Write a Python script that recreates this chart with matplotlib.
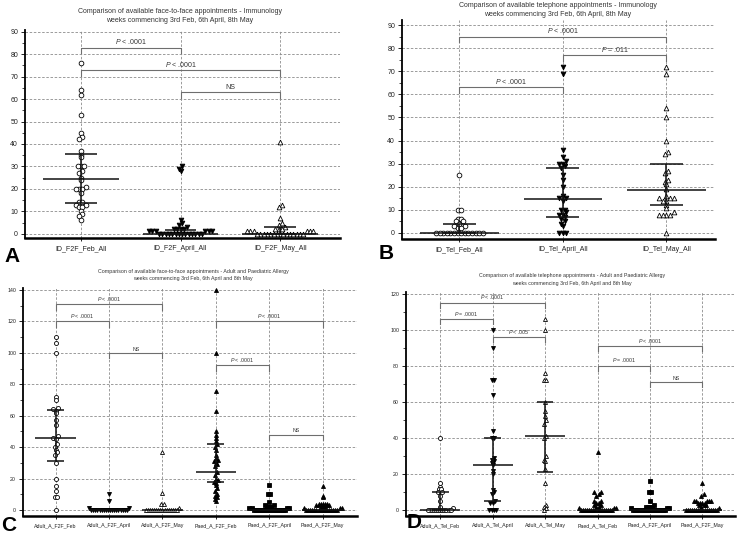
import numpy as np
import matplotlib
matplotlib.use("Agg")
import matplotlib.pyplot as plt

plt.rcParams['font.family'] = ['Liberation Sans', 'DejaVu Sans']
plt.rcParams['mathtext.fontset'] = 'custom'
plt.rcParams['mathtext.it'] = 'Liberation Sans:italic'
plt.rcParams['mathtext.rm'] = 'Liberation Sans'

W, H = 737, 534

# ---------------- data ----------------
a_cats = ['ID_F2F_Feb_All', 'ID_F2F_April_All', 'ID_F2F_May_All']
a_feb = [76, 64, 62, 53, 45, 43, 42, 37, 35, 34, 30, 30, 30, 28, 27, 25, 24, 21,
         20, 20, 20, 18, 14, 14, 13, 13, 12, 12, 10, 9, 8, 6]
a_apr = [30, 29, 28, 6, 5, 4, 3, 2, 2, 2, 2, 1, 1, 1, 1, 1, 1] + [0] * 14
a_may = [41, 13, 12, 7, 5, 4, 3, 2, 2, 2, 1, 1, 1, 1, 1, 1] + [0] * 15
a_med = [24.5, 0, 0]
a_q1 = [13.5, 0, 0]
a_q3 = [35.5, 1.5, 3]
a_brackets = [(0, 1, 83, '$P$ < .0001'), (0, 2, 73, '$P$ < .0001'), (1, 2, 63, 'NS')]

b_cats = ['ID_Tel_Feb_All', 'ID_Tel_April_All', 'ID_Tel_May_All']
b_feb = [25, 10, 10, 6, 6, 5, 5, 4, 3, 3, 2, 2] + [0] * 14
b_apr = [72, 69, 36, 33, 31, 30, 30, 29, 28, 25, 23, 20, 16, 15, 15, 14, 10, 10,
         9, 8, 8, 7, 6, 5, 4, 3, 0, 0, 0]
b_may = [72, 69, 54, 50, 40, 35, 34, 27, 26, 23, 22, 21, 19, 16, 15, 15, 15, 14,
         14, 12, 11, 9, 8, 8, 8, 8, 0]
b_med = [0, 14.7, 18.5]
b_q1 = [0, 7, 12]
b_q3 = [4, 28, 30]
b_brackets = [(0, 2, 85, '$P$ < .0001'), (1, 2, 77, '$P$ = .011'), (0, 1, 63, '$P$ < .0001')]

c_cats = ['Adult_A_F2F_Feb', 'Adult_A_F2F_April', 'Adult_A_F2F_May',
          'Paed_A_F2F_Feb', 'Paed_A_F2F_April', 'Paed_A_F2F_May']
c_adult_feb = [110, 106, 100, 72, 70, 65, 64, 63, 62, 57, 54, 47, 46, 45, 42, 40,
               38, 37, 35, 30, 20, 15, 12, 8, 8, 0]
c_adult_apr = [10, 6, 1, 1] + [0] * 18
c_adult_may = [37, 11, 4, 4, 1] + [0] * 16
c_paed_feb = [140, 100, 76, 63, 50, 48, 46, 44, 42, 40, 38, 35, 33, 32, 31, 30, 29,
              28, 24, 22, 20, 19, 18, 17, 16, 14, 12, 10, 9, 8, 7, 6]
c_paed_apr = [16, 10, 10, 5, 3, 3, 2, 2, 2, 1, 1, 1, 1] + [0] * 16
c_paed_may = [15, 9, 8, 4, 4, 4, 4, 4, 3, 3, 3, 3, 2, 2, 2, 1, 1, 1] + [0] * 16
c_med = [46, 0, 0, 24, 0, 0]
c_q1 = [31, 0, 0, 18, 0, 0]
c_q3 = [63.5, 0, 0, 42, 0, 0]
c_brackets = [(0, 2, 131, '$P$ < .0001'), (0, 1, 120, '$P$ < .0001'), (1, 2, 100, 'NS'),
              (3, 5, 120, '$P$ < .0001'), (3, 4, 92, '$P$ < .0001'), (4, 5, 48, 'NS')]

d_cats = ['Adult_A_Tel_Feb', 'Adult_A_Tel_April', 'Adult_A_Tel_May',
          'Paed_A_Tel_Feb', 'Paed_A_F2F_April', 'Paed_A_F2F_May']
d_adult_feb = [40, 15, 13, 12, 12, 10, 10, 8, 5, 2, 1] + [0] * 12
d_adult_apr = [100, 90, 72, 72, 64, 44, 40, 40, 29, 28, 27, 26, 25, 22, 20, 11, 10,
               9, 5, 4, 4, 0, 0, 0, 0]
d_adult_may = [106, 100, 76, 72, 72, 60, 55, 52, 50, 48, 41, 40, 30, 28, 27, 23, 15,
               3, 2, 1, 0]
d_paed_feb = [32, 10, 10, 9, 8, 5, 5, 4, 4, 3, 3, 2, 2, 1, 1, 1] + [0] * 16
d_paed_apr = [16, 10, 10, 5, 3, 2, 2, 2, 2, 1, 1, 1] + [0] * 16
d_paed_may = [15, 9, 8, 5, 5, 5, 5, 5, 4, 4, 4, 4, 3, 3, 3, 2, 1] + [0] * 16
d_med = [0, 25, 41, 0, 0, 0]
d_q1 = [0, 5, 21, 0, 0, 0]
d_q3 = [10, 40, 60, 0, 0, 0]
d_brackets = [(0, 2, 115, '$P$ < .0001'), (0, 1, 106, '$P$ = .0001'), (1, 2, 96, '$P$ < .005'),
              (3, 5, 91, '$P$ < .0001'), (3, 4, 80, '$P$ = .0001'), (4, 5, 71, 'NS')]

# marker styles: (marker, filled)
m3 = [('o', False), ('v', True), ('^', False)]
m6 = [('o', False), ('v', True), ('^', False), ('^', True), ('s', True), ('^', True)]


def spread(vals, ppx, ppy, bh, sx):
    """dot-plot offsets: values in the same row (bh px high) are spread sx px apart"""
    vals = np.asarray(vals, float)
    rows = np.floor(vals * ppy / bh + 0.5).astype(int)
    offs = np.zeros(len(vals))
    for r in np.unique(rows):
        idx = np.where(rows == r)[0]
        idx = idx[np.argsort(vals[idx], kind='stable')]
        n = len(idx)
        pos = (np.arange(n) - (n - 1) / 2) * sx
        pos = pos[np.argsort(np.abs(pos), kind='stable')]
        offs[idx] = pos / ppx
    return offs


def panel(rect, xlim, ylim, groups, cats, marks, med, q1, q3, brackets,
          major, minor, fs, msize, sx, drop):
    l, t, r, b = rect
    ax = fig.add_axes([l / W, 1 - b / H, (r - l) / W, (b - t) / H])
    ax.set_xlim(*xlim)
    ax.set_ylim(*ylim)
    ppx = (r - l) / (xlim[1] - xlim[0])
    ppy = (b - t) / (ylim[1] - ylim[0])
    ax.set_yticks(np.arange(0, ylim[1] + 0.1, major))
    ax.set_yticks(np.arange(0, ylim[1] + 0.1, minor), minor=True)
    ax.yaxis.grid(True, which='major', ls=(0, (3, 2)), color='#8c8c8c', lw=0.6)
    for i in range(len(cats)):
        ax.axvline(i, ls=(0, (3, 2)), color='#8c8c8c', lw=0.6, zorder=0)
    ax.set_axisbelow(True)
    for s in ['top', 'right']:
        ax.spines[s].set_visible(False)
    ax.spines['left'].set_linewidth(1.3)
    ax.spines['bottom'].set_linewidth(1.8)
    ax.set_xticks(range(len(cats)))
    ax.set_xticklabels(cats, fontsize=fs, color='#222222')
    ax.tick_params(axis='x', length=2, width=0.6, pad=3)
    ax.tick_params(axis='y', which='major', labelsize=fs, length=3, width=0.6, pad=2,
                   labelcolor='#222222')
    ax.tick_params(axis='y', which='minor', length=2, width=0.5)

    dpx = msize * 100 / 72
    for i, vals in enumerate(groups):
        mk, filled = marks[i]
        offs = spread(vals, ppx, ppy, dpx, sx)
        ax.plot(i + offs, vals, ls='none', marker=mk, ms=msize, mew=0.6,
                mec='black', mfc='black' if filled else 'white', zorder=3,
                clip_on=False)
        ax.hlines(med[i], i - 0.38, i + 0.38, color='#111111', lw=1.1, zorder=4)
        if q3[i] > q1[i]:
            ax.hlines([q1[i], q3[i]], i - 0.16, i + 0.16, color='#111111', lw=1.1, zorder=4)
            ax.vlines(i, q1[i], q3[i], color='#111111', lw=1.1, zorder=4)

    for i, j, h, lab in brackets:
        ax.plot([i, i, j, j], [h - drop, h, h, h - drop], color='#6e6e6e', lw=0.8, zorder=2)
        ax.text((i + j) / 2, h + drop * 0.25, lab, ha='center', va='bottom',
                fontsize=fs, color='#333333')
    return ax


fig = plt.figure(figsize=(W / 100, H / 100), dpi=100)

# A
panel((25, 30, 340, 238), (-0.56, 2.6), (-1.9, 90.8), [a_feb, a_apr, a_may], a_cats, m3,
      a_med, a_q1, a_q3, a_brackets, 10, 5, 5, 3.4, 3.3, 2.5)
fig.text(180 / W, 1 - 11.5 / H, 'Comparison of available face-to-face appointments - Immunology',
         ha='center', va='center', fontsize=5, color='#333333')
fig.text(180 / W, 1 - 20 / H, 'weeks commencing 3rd Feb, 6th April, 8th May',
         ha='center', va='center', fontsize=5, color='#333333')
fig.text(4 / W, 1 - 262 / H, 'A', fontsize=15, fontweight='bold')

# B
panel((402, 20, 715, 239), (-0.555, 2.47), (-2.6, 92.2), [b_feb, b_apr, b_may], b_cats, m3,
      b_med, b_q1, b_q3, b_brackets, 10, 5, 5, 3.4, 3.6, 2.5)
fig.text(558 / W, 1 - 5.5 / H, 'Comparison of available telephone appointments - Immunology',
         ha='center', va='center', fontsize=5, color='#333333')
fig.text(558 / W, 1 - 14 / H, 'weeks commencing 3rd Feb, 6th April, 8th May',
         ha='center', va='center', fontsize=5, color='#333333')
fig.text(379 / W, 1 - 259 / H, 'B', fontsize=15, fontweight='bold')

# C
panel((23, 288, 357, 516), (-0.61, 5.64), (-3.8, 141.3),
      [c_adult_feb, c_adult_apr, c_adult_may, c_paed_feb, c_paed_apr, c_paed_may],
      c_cats, m6, c_med, c_q1, c_q3, c_brackets, 20, 10, 3.8, 2.9, 2.1, 3.5)
fig.text(193 / W, 1 - 271 / H,
         'Comparison of available face-to-face appointments - Adult and Paediatric Allergy',
         ha='center', va='center', fontsize=3.8, color='#333333')
fig.text(193 / W, 1 - 278.5 / H, 'weeks commencing 3rd Feb, 6th April and 8th May',
         ha='center', va='center', fontsize=3.8, color='#333333')
fig.text(1 / W, 1 - 531 / H, 'C', fontsize=15, fontweight='bold')

# D
panel((406, 292, 735, 516), (-0.65, 5.62), (-3.2, 120.9),
      [d_adult_feb, d_adult_apr, d_adult_may, d_paed_feb, d_paed_apr, d_paed_may],
      d_cats, m6, d_med, d_q1, d_q3, d_brackets, 20, 10, 3.8, 2.9, 2.1, 3.0)
fig.text(572 / W, 1 - 276 / H,
         'Comparison of available telephone appointments - Adult and Paediatric Allergy',
         ha='center', va='center', fontsize=3.8, color='#333333')
fig.text(572 / W, 1 - 283 / H, 'weeks commencing 3rd Feb, 6th April and 8th May',
         ha='center', va='center', fontsize=3.8, color='#333333')
fig.text(407 / W, 1 - 528 / H, 'D', fontsize=15, fontweight='bold')

fig.savefig('out.png', dpi=100)
